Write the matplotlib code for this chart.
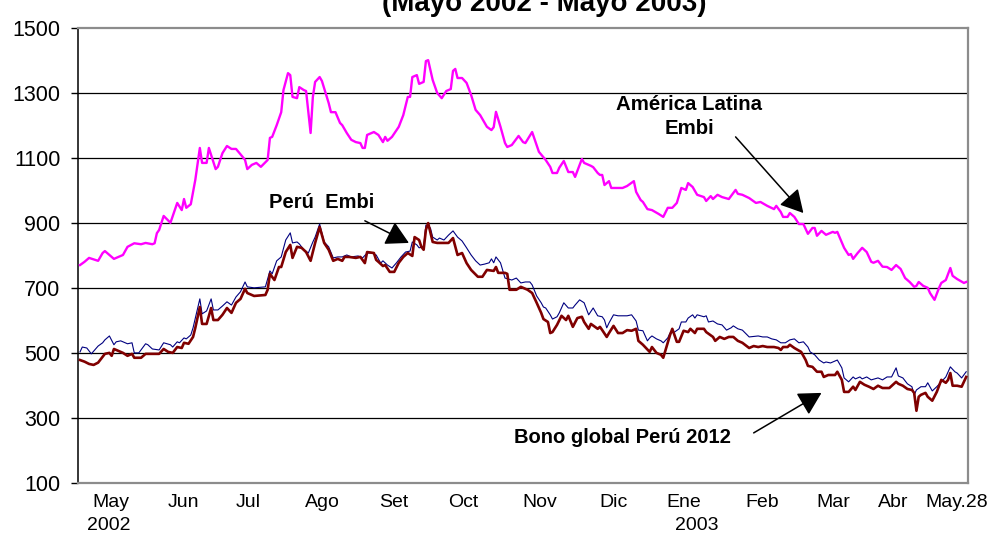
import matplotlib.pyplot as plt
import numpy as np

plt.rcParams['font.family'] = ['Liberation Sans', 'DejaVu Sans']

# dias contados desde el 1 de mayo de 2002 (pb)
latam_dia = [0, 2, 4, 8, 10, 11, 15, 19, 21, 24, 27, 29, 32, 33, 34, 35, 37, 40, 43, 45,
             46, 47, 49, 51, 53, 54, 56, 57, 60, 61, 63, 65, 67, 69, 72, 73, 74, 76, 78, 80,
             83, 84, 85, 87, 89, 90, 92, 93, 94, 96, 97, 99, 100, 102, 103, 104, 106, 107, 110, 111,
             113, 115, 116, 118, 120, 122, 124, 125, 126, 127, 130, 132, 134, 135, 136, 138, 141, 143, 145, 146,
             147, 149, 150, 152, 153, 154, 156, 158, 160, 162, 164, 165, 166, 167, 169, 171, 173, 175, 177, 180,
             182, 183, 184, 186, 188, 189, 191, 194, 196, 197, 200, 203, 206, 208, 209, 211, 212, 214, 216, 218,
             219, 222, 223, 226, 227, 229, 230, 231, 232, 234, 235, 240, 242, 245, 246, 248, 249, 251, 253, 256,
             258, 260, 262, 264, 266, 268, 269, 271, 273, 276, 277, 279, 280, 282, 284, 287, 290, 291, 293, 296,
             299, 301, 304, 307, 308, 310, 311, 313, 314, 316, 318, 320, 322, 324, 325, 326, 328, 330, 333, 334,
             335, 338, 340, 341, 342, 344, 346, 348, 350, 351, 353, 355, 357, 359, 361, 363, 365, 367, 369, 370,
             371, 373, 375, 376, 378, 380, 381, 383, 385, 386, 388, 391, 392]
latam = [770, 780, 792, 783, 807, 813, 789, 801, 826, 837, 834, 838, 834, 837, 868, 878, 921, 900, 961, 939,
         973, 946, 957, 1032, 1130, 1084, 1084, 1130, 1065, 1072, 1114, 1136, 1127, 1127, 1102, 1093, 1065, 1078, 1084, 1072,
         1093, 1161, 1164, 1200, 1240, 1308, 1360, 1354, 1287, 1283, 1317, 1308, 1305, 1176, 1287, 1333, 1348, 1336, 1268, 1240,
         1240, 1207, 1200, 1176, 1155, 1148, 1145, 1130, 1130, 1170, 1179, 1170, 1148, 1164, 1152, 1164, 1195, 1231, 1287, 1287,
         1348, 1354, 1327, 1333, 1397, 1400, 1339, 1299, 1283, 1305, 1311, 1367, 1373, 1345, 1345, 1330, 1293, 1247, 1231, 1195,
         1185, 1194, 1241, 1195, 1145, 1133, 1139, 1167, 1148, 1145, 1179, 1118, 1093, 1072, 1053, 1053, 1069, 1090, 1056, 1056,
         1041, 1096, 1084, 1075, 1071, 1053, 1047, 1047, 1016, 1028, 1007, 1007, 1013, 1028, 995, 970, 964, 942, 939, 927,
         918, 946, 946, 961, 1007, 1001, 1022, 1010, 986, 979, 967, 982, 973, 986, 979, 973, 1001, 989, 986, 976,
         961, 964, 952, 942, 952, 933, 918, 918, 930, 918, 896, 896, 866, 884, 884, 860, 875, 863, 872, 869,
         872, 823, 801, 804, 789, 807, 823, 810, 780, 777, 783, 765, 764, 755, 770, 758, 730, 718, 703, 706,
         718, 706, 700, 684, 663, 700, 715, 724, 761, 737, 727, 715, 718]

peru_dia = [0, 1, 3, 5, 8, 10, 11, 13, 15, 16, 18, 19, 21, 23, 24, 26, 29, 30, 32, 35,
            37, 40, 41, 43, 44, 46, 47, 49, 50, 53, 54, 56, 58, 59, 61, 63, 65, 67, 69, 71,
            73, 74, 77, 82, 84, 85, 87, 89, 91, 93, 94, 96, 97, 99, 101, 103, 104, 106, 108, 110,
            112, 114, 116, 118, 120, 123, 125, 127, 129, 131, 133, 134, 136, 138, 140, 142, 144, 146, 147, 149,
            150, 152, 153, 155, 156, 158, 159, 161, 163, 165, 167, 168, 169, 171, 173, 175, 177, 179, 181, 182,
            183, 184, 186, 188, 191, 193, 195, 197, 199, 200, 202, 204, 205, 206, 208, 209, 211, 212, 214, 216,
            218, 219, 221, 223, 225, 227, 229, 231, 232, 233, 234, 236, 238, 242, 244, 246, 247, 249, 251, 252,
            253, 255, 257, 258, 260, 261, 263, 265, 266, 268, 269, 271, 272, 273, 276, 277, 278, 280, 282, 284,
            286, 288, 289, 291, 293, 296, 300, 302, 304, 306, 308, 310, 312, 314, 316, 318, 320, 322, 323, 325,
            327, 329, 330, 332, 333, 335, 337, 338, 340, 342, 343, 345, 346, 348, 350, 353, 355, 357, 359, 361,
            362, 364, 366, 368, 369, 370, 372, 374, 375, 377, 379, 381, 383, 385, 387, 388, 390, 392]
peru = [503, 518, 515, 497, 521, 531, 540, 552, 525, 534, 537, 534, 528, 531, 500, 500, 528, 525, 512, 509,
        531, 525, 518, 534, 531, 546, 543, 555, 577, 666, 620, 629, 666, 632, 632, 644, 657, 647, 672, 688,
        718, 703, 700, 703, 752, 743, 783, 795, 847, 869, 838, 841, 835, 817, 807, 841, 856, 896, 841, 826,
        792, 795, 795, 801, 795, 798, 792, 807, 807, 801, 776, 783, 770, 761, 777, 795, 810, 813, 841, 832,
        823, 826, 893, 884, 856, 847, 853, 847, 862, 875, 856, 850, 844, 823, 801, 783, 770, 773, 777, 789,
        777, 795, 777, 730, 724, 730, 715, 718, 718, 709, 675, 654, 641, 638, 617, 604, 611, 623, 654, 638,
        638, 647, 663, 654, 617, 638, 614, 611, 601, 577, 592, 617, 614, 614, 617, 598, 570, 568, 537, 546,
        552, 543, 537, 531, 546, 561, 564, 574, 595, 595, 607, 617, 607, 617, 611, 614, 595, 598, 589, 586,
        570, 577, 583, 574, 570, 549, 552, 549, 549, 543, 540, 531, 531, 540, 543, 531, 534, 518, 503, 494,
        478, 469, 472, 469, 472, 478, 454, 423, 411, 426, 420, 426, 420, 426, 417, 423, 417, 426, 426, 454,
        429, 423, 405, 396, 371, 386, 396, 396, 408, 383, 396, 411, 426, 457, 442, 438, 423, 442]

bono_dia = [0, 2, 4, 6, 8, 10, 11, 13, 14, 15, 17, 19, 21, 23, 24, 27, 29, 35, 37, 39,
            41, 43, 45, 46, 48, 50, 51, 53, 54, 56, 58, 59, 61, 63, 65, 67, 69, 71, 73, 74,
            77, 82, 83, 84, 86, 88, 89, 91, 93, 94, 96, 98, 100, 102, 104, 106, 108, 110, 112, 114,
            116, 117, 119, 122, 124, 126, 127, 130, 131, 132, 134, 135, 137, 139, 141, 143, 145, 147, 148, 150,
            151, 152, 153, 154, 156, 158, 163, 165, 167, 169, 171, 173, 176, 178, 180, 183, 184, 185, 188, 189,
            190, 193, 195, 198, 200, 202, 204, 205, 207, 208, 209, 211, 213, 215, 216, 218, 220, 222, 223, 225,
            226, 229, 230, 231, 233, 234, 236, 238, 240, 242, 244, 246, 247, 249, 252, 253, 255, 257, 258, 260,
            261, 262, 264, 265, 267, 269, 270, 272, 273, 276, 277, 280, 281, 283, 285, 287, 289, 291, 293, 296,
            298, 300, 302, 304, 307, 309, 310, 311, 313, 314, 316, 319, 321, 322, 324, 326, 328, 329, 331, 334,
            335, 337, 338, 340, 342, 343, 345, 347, 349, 351, 353, 355, 358, 361, 362, 364, 366, 368, 369, 370,
            371, 372, 374, 375, 377, 379, 381, 383, 384, 385, 386, 388, 390, 392]
bono = [478, 473, 466, 463, 470, 488, 497, 500, 491, 512, 506, 500, 491, 497, 485, 485, 497, 497, 512, 503,
        500, 518, 515, 531, 528, 549, 577, 641, 589, 589, 638, 601, 601, 617, 638, 623, 654, 666, 697, 684,
        675, 678, 694, 743, 724, 764, 764, 810, 832, 792, 826, 823, 810, 783, 838, 887, 838, 817, 783, 789,
        783, 795, 795, 792, 795, 776, 810, 807, 786, 780, 767, 770, 749, 749, 777, 795, 807, 798, 856, 847,
        826, 817, 878, 899, 841, 838, 838, 853, 801, 807, 776, 755, 734, 734, 755, 752, 764, 746, 746, 743,
        694, 694, 703, 694, 684, 654, 623, 604, 595, 561, 564, 586, 614, 601, 614, 580, 607, 611, 595, 574,
        589, 574, 580, 570, 549, 561, 583, 561, 561, 570, 568, 574, 537, 525, 503, 518, 500, 494, 485, 531,
        555, 574, 534, 534, 568, 564, 574, 561, 574, 574, 564, 549, 537, 549, 543, 549, 549, 537, 531, 515,
        521, 518, 521, 518, 518, 515, 509, 518, 518, 525, 515, 503, 478, 460, 457, 442, 442, 426, 432, 432,
        442, 417, 380, 380, 396, 386, 411, 402, 396, 389, 399, 392, 392, 411, 405, 399, 389, 386, 377, 322,
        365, 371, 377, 365, 353, 380, 417, 408, 417, 438, 399, 399, 396, 426]

meses = ['May', 'Jun', 'Jul', 'Ago', 'Set', 'Oct', 'Nov', 'Dic', 'Ene', 'Feb', 'Mar', 'Abr', 'May.28']
meses_dia = [13.6, 45.7, 74.5, 107.4, 138.8, 169.4, 203.2, 236.1, 266.9, 301.6, 333.4, 359.8, 387.8]
anios = ['2002', '2003']
anios_dia = [12.8, 272.6]
yticks = [100, 300, 500, 700, 900, 1100, 1300, 1500]

fig = plt.figure(figsize=(9.89, 5.36), dpi=100)
ax = fig.add_axes([0.0792, 0.0989, 0.900, 0.8496])

ax.set_xlim(-0.75, 393.0)
ax.set_ylim(100, 1500)
ax.set_yticks(yticks)
ax.set_xticks(meses_dia)
ax.set_xticklabels(meses)
ax.tick_params(axis='x', length=0, pad=8, labelsize=14)
ax.tick_params(axis='y', length=5, width=1.0, direction='out', pad=8, labelsize=15.5)

for y in yticks[1:-1]:
    ax.axhline(y, color='black', lw=0.9, zorder=1)

for s in ['top', 'right', 'bottom']:
    ax.spines[s].set_color('#8c8c8c')
    ax.spines[s].set_linewidth(1.6)
ax.spines['left'].set_color('black')
ax.spines['left'].set_linewidth(1.1)

ax.plot(latam_dia, latam, color='#ff00ff', lw=1.7, zorder=3)
ax.plot(peru_dia, peru, color='#000080', lw=0.8, zorder=3)
ax.plot(bono_dia, bono, color='#800000', lw=1.9, zorder=4)

for lab, d in zip(anios, anios_dia):
    ax.annotate(lab, xy=(d, 0), xycoords=('data', 'axes fraction'),
                xytext=(0, -43), textcoords='offset pixels',
                ha='center', va='center', fontsize=14)

flecha = dict(arrowstyle='-|>,head_length=1.0,head_width=0.55', color='black',
              lw=1.1, mutation_scale=14, shrinkA=0, shrinkB=0)

ax.text(107, 961, 'Perú  Embi', ha='center', va='center', fontsize=14.5, fontweight='bold')
ax.annotate('', xy=(145.5, 838), xytext=(126, 906), arrowprops=flecha)

ax.text(269.5, 1227, 'América Latina\nEmbi', ha='center', va='center', fontsize=14.7,
        fontweight='bold', linespacing=1.3)
ax.annotate('', xy=(320, 930), xytext=(290, 1164), arrowprops=flecha)

ax.text(240, 239, 'Bono global Perú 2012', ha='center', va='center', fontsize=14.5, fontweight='bold')
ax.annotate('', xy=(328, 377), xytext=(298, 254), arrowprops=flecha)

fig.text(0.55, 1 - 11 / 536, '(Mayo 2002 - Mayo 2003)', ha='center', va='baseline',
         fontsize=20, fontweight='bold')

fig.savefig('out.png', dpi=100)
